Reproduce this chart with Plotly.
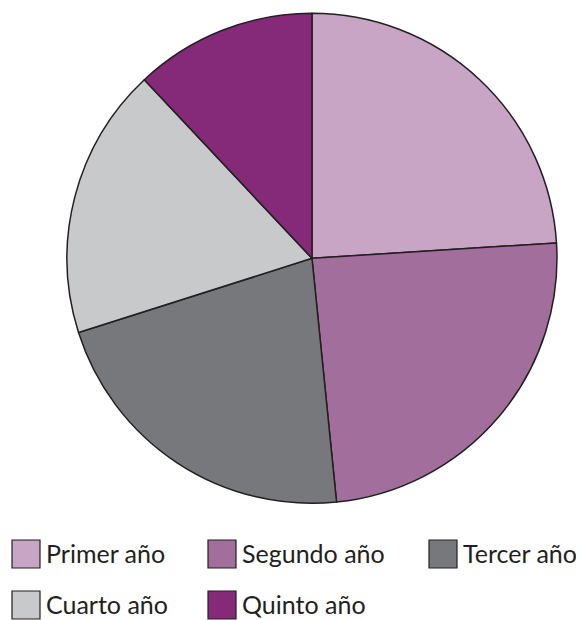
import plotly.graph_objects as go

# Distribution by year
labels = ['Primer año', 'Segundo año', 'Tercer año', 'Cuarto año', 'Quinto año']
values = [24.0, 24.4, 21.7, 17.9, 12.0]
colors = ['#C8A5C5', '#A26E9B', '#77787B', '#C8C9CA', '#852A78']

# the page body adds an 8px margin, so the figure is 8px smaller than the window
W, H = 576, 612
outline = '#231F20'

fig = go.Figure(go.Pie(
    labels=labels,
    values=values,
    sort=False,
    direction='clockwise',
    rotation=0,
    textinfo='none',
    hoverinfo='label+percent',
    marker=dict(colors=colors, line=dict(color=outline, width=1.5)),
    domain=dict(x=[0.1024, 0.9531], y=[0.1907, 0.9913]),
    showlegend=False,
))

# Manual legend: two rows, three columns
col_x = [4, 200, 421]
row_y = [546, 597]
sq = 28
shapes, annotations = [], []
for i, (lab, col) in enumerate(zip(labels, colors)):
    r, c = divmod(i, 3)
    x0 = col_x[c]
    yc = row_y[r]
    shapes.append(dict(
        type='rect', xref='paper', yref='paper',
        x0=x0 / W, x1=(x0 + sq) / W,
        y0=1 - (yc + sq / 2) / H, y1=1 - (yc - sq / 2) / H,
        fillcolor=col, line=dict(color=outline, width=1.2),
    ))
    annotations.append(dict(
        text=lab, xref='paper', yref='paper',
        x=(x0 + sq + 4) / W, y=1 - (yc - 1) / H,
        xanchor='left', yanchor='middle', showarrow=False,
        font=dict(size=25, color=outline, family='Lato'),
    ))

fig.update_layout(
    width=W, height=H,
    margin=dict(l=0, r=0, t=0, b=0),
    paper_bgcolor='white',
    plot_bgcolor='white',
    shapes=shapes,
    annotations=annotations,
)

fig.write_html('out.html')
